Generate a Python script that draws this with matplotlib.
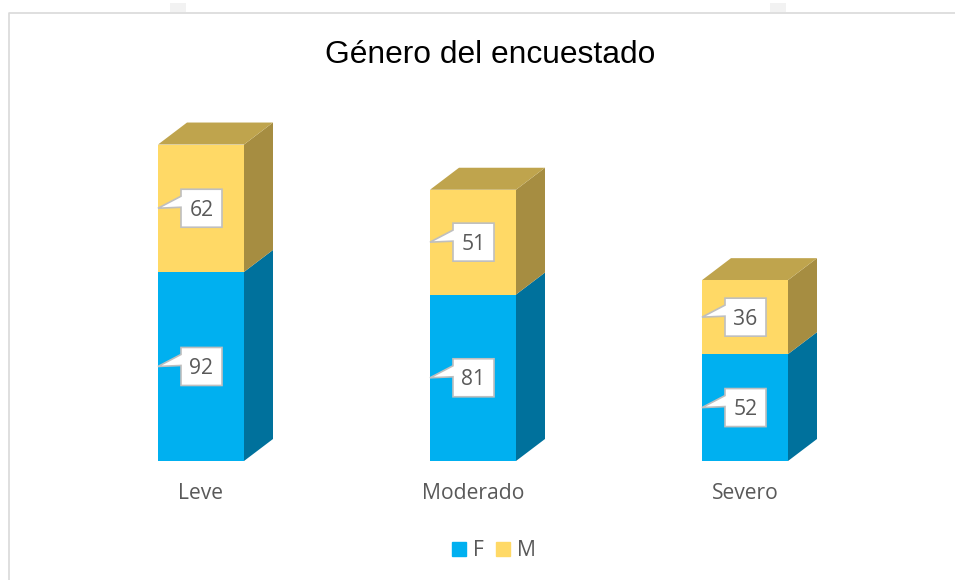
import matplotlib
matplotlib.use('Agg')
import matplotlib.pyplot as plt
from matplotlib.lines import Line2D
from matplotlib.patches import Patch, Polygon, Rectangle
from matplotlib.transforms import Affine2D

categories = ['Leve', 'Moderado', 'Severo']
f_values = [92, 81, 52]
m_values = [62, 51, 36]
series_labels = ['F', 'M']
title = 'Género del encuestado'

W, H = 955, 580
BLUE, BLUE_SIDE = '#00B0F0', '#00719C'
YELLOW, YELLOW_SIDE, YELLOW_TOP = '#FFD966', '#A68D41', '#BFA44D'
TEXT = '#595959'
FONT = 'Open Sans'
BAR_W = 86 / 272  # in category units
DEPTH_X = 29 / 272
PX_PER_UNIT = 2.055
DEPTH_Y = 22 / PX_PER_UNIT

fig = plt.figure(figsize=(W / 100, H / 100), dpi=100)
# axes placed so that one category is 272 px wide and the baseline is at y=461
left, right = 65, 881
y_max = 180
top = 461 - y_max * PX_PER_UNIT
ax = fig.add_axes([left / W, 1 - 461 / H, (right - left) / W, (461 - top) / H])
ax.set_xlim(-0.5, 2.5)
ax.set_ylim(0, y_max)
ax.patch.set_alpha(0)
for s in ax.spines.values():
    s.set_visible(False)
ax.yaxis.set_visible(False)
ax.set_xticks(range(len(categories)), categories, fontsize=15.2, color=TEXT, family=FONT)
ax.tick_params(axis='x', length=0, pad=16)

x = list(range(len(categories)))
ax.bar(x, f_values, BAR_W, color=BLUE, zorder=2)
ax.bar(x, m_values, BAR_W, bottom=f_values, color=YELLOW, zorder=2)


def side(xr, y0, y1, color):
    ax.add_patch(Polygon([(xr, y0), (xr + DEPTH_X, y0 + DEPTH_Y), (xr + DEPTH_X, y1 + DEPTH_Y), (xr, y1)],
                         closed=True, fc=color, ec='none', zorder=1))


for i in x:
    xl, xr = i - BAR_W / 2, i + BAR_W / 2
    total = f_values[i] + m_values[i]
    side(xr, 0, f_values[i], BLUE_SIDE)
    side(xr, f_values[i], total, YELLOW_SIDE)
    ax.add_patch(Polygon([(xl, total), (xr, total), (xr + DEPTH_X, total + DEPTH_Y), (xl + DEPTH_X, total + DEPTH_Y)],
                         closed=True, fc=YELLOW_TOP, ec='none', zorder=1))


def callout(i, bottom, val):
    # speech bubble, sized in pixels from its tip on the left edge of the bar
    tip = ax.transData.transform((i - BAR_W / 2, bottom + val / 2))
    trans = Affine2D().translate(tip[0], tip[1])
    verts = [(0, 0), (23, 12), (23, 19), (64, 19), (64, -19), (23, -19), (23, 1)]
    ax.add_patch(Polygon(verts, closed=True, fc='white', ec='#BFBFBF', lw=1.2, transform=trans,
                         joinstyle='miter', zorder=3))
    ax.text(43.5, -2, str(val), transform=trans, ha='center', va='center', fontsize=15.2,
            color=TEXT, family=FONT, zorder=4)


for i in x:
    callout(i, 0, f_values[i])
    callout(i, f_values[i], m_values[i])

fig.text(490 / W, 1 - 55 / H, title, ha='center', va='center', fontsize=22.9, color='black',
         family='Liberation Sans')

handles = [Patch(color=BLUE), Patch(color=YELLOW)]
fig.legend(handles, series_labels, loc='center', bbox_to_anchor=(494 / W, 1 - 551 / H), ncol=2, frameon=False,
           handlelength=0.67, handleheight=0.67, handletextpad=0.3, columnspacing=0.6,
           prop={'family': FONT, 'size': 15.2}, labelcolor=TEXT, borderpad=0)

# frame of the chart, open to the right and bottom of the image
fig.add_artist(Line2D([9 / W, 9 / W, 1], [0, 1 - 12.5 / H, 1 - 12.5 / H], color='#D9D9D9', lw=1.2))
# bits of the page watermark above the frame
for wx in (178, 778):
    fig.add_artist(Rectangle(((wx - 8) / W, 1 - 12 / H), 16 / W, 9 / H, fc='#F2F2F2', ec='none'))

fig.savefig('out.png', dpi=100)
